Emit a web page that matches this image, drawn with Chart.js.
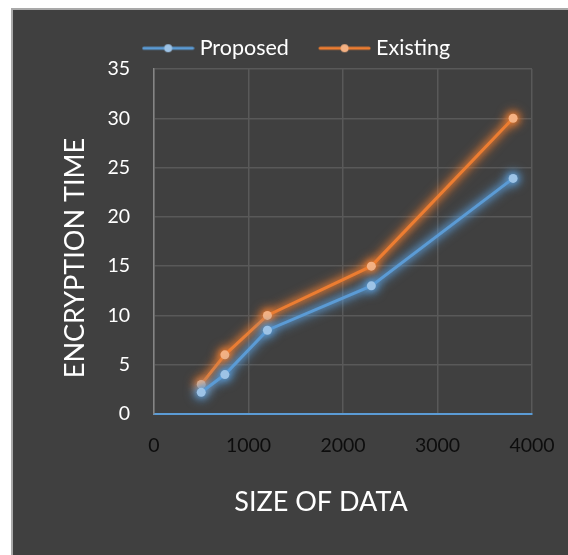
<!DOCTYPE html>
<html>
<head>
<meta charset="utf-8">
<script src="https://cdn.jsdelivr.net/npm/chart.js@4"></script>
<style>
  html, body { margin: 0; padding: 0; background: #fff; }
  #frame {
    position: absolute; left: 11px; top: 8px;
    width: 555px; height: 545px;
    border-left: 2px solid #a9a9a9; border-top: 2px solid #a9a9a9;
    background: #404040;
  }
  canvas { display: block; }
</style>
</head>
<body>
<div id="frame"><canvas id="chart" width="555" height="545"></canvas></div>
<script>
const sizes = [500, 750, 1200, 2300, 3800];
const proposed = [2.2, 4, 8.5, 13, 23.9];
const existing = [3, 6, 10, 15, 30];
const seriesNames = ['Proposed', 'Existing'];
const xTitle = 'SIZE OF DATA';
const yTitle = 'ENCRYPTION TIME';

const lineColors = ['#5B9BD5', '#ED7D31'];
const dotColors = ['#9DC3E6', '#F4B183'];
const glowColors = ['rgb(91,155,213)', 'rgb(237,125,49)'];
const FONT = 'Lato, "Open Sans", sans-serif';

// little line-with-dot icon for the legend, like the spreadsheet one
function legendIcon(i) {
  const c = document.createElement('canvas');
  c.width = 53; c.height = 12;
  const g = c.getContext('2d');
  g.strokeStyle = lineColors[i];
  g.lineWidth = 3;
  g.lineCap = 'round';
  g.beginPath(); g.moveTo(2, 6); g.lineTo(51, 6); g.stroke();
  g.fillStyle = dotColors[i];
  g.beginPath(); g.arc(26.5, 6, 4, 0, Math.PI * 2); g.fill();
  return c;
}
const icons = [legendIcon(0), legendIcon(1)];

// soft halo under each series, following the points the scales placed
const glow = {
  id: 'glow',
  beforeDatasetDraw(chart, args) {
    const ctx = chart.ctx;
    const pts = args.meta.data;
    ctx.save();
    ctx.filter = 'blur(5px)';
    ctx.globalAlpha = 0.45;
    ctx.strokeStyle = glowColors[args.index];
    ctx.fillStyle = glowColors[args.index];
    ctx.lineWidth = 11;
    ctx.lineJoin = 'round';
    ctx.lineCap = 'round';
    ctx.beginPath();
    pts.forEach((p, k) => k ? ctx.lineTo(p.x, p.y) : ctx.moveTo(p.x, p.y));
    ctx.stroke();
    pts.forEach(p => {
      ctx.beginPath();
      ctx.arc(p.x, p.y, 9, 0, Math.PI * 2);
      ctx.fill();
    });
    ctx.restore();
    ctx.save();
    ctx.shadowColor = glowColors[args.index];
    ctx.shadowBlur = 6;
  },
  afterDatasetDraw(chart) {
    chart.ctx.restore();
  }
};

const axisTitles = {
  id: 'axisTitles',
  afterDraw(chart) {
    const ctx = chart.ctx;
    ctx.save();
    ctx.fillStyle = '#ffffff';
    ctx.font = '27px ' + FONT;
    ctx.textAlign = 'center';
    ctx.textBaseline = 'alphabetic';
    ctx.fillText(xTitle, 308, 501);
    ctx.translate(71, 248);
    ctx.rotate(-Math.PI / 2);
    ctx.fillText(yTitle, 0, 0);
    ctx.restore();
  }
};

function toPoints(ys) {
  return sizes.map((x, i) => ({ x: x, y: ys[i] }));
}

new Chart(document.getElementById('chart'), {
  type: 'line',
  data: {
    datasets: [proposed, existing].map((ys, i) => ({
      label: seriesNames[i],
      data: toPoints(ys),
      borderColor: lineColors[i],
      backgroundColor: dotColors[i],
      borderWidth: 3,
      pointRadius: 4.5,
      pointBorderWidth: 0,
      pointBackgroundColor: dotColors[i],
      fill: false,
      tension: 0
    }))
  },
  options: {
    responsive: false,
    animation: false,
    layout: { padding: { left: 52.5, right: 36, top: -7.5, bottom: 0 } },
    plugins: {
      tooltip: { enabled: false },
      legend: {
        position: 'top',
        labels: {
          color: '#ffffff',
          font: { family: FONT, size: 21.5 },
          usePointStyle: true,
          pointStyleWidth: 41.5,
          padding: 35,
          generateLabels(chart) {
            const items = Chart.defaults.plugins.legend.labels.generateLabels(chart);
            items.forEach((it, i) => { it.pointStyle = icons[i]; });
            return items;
          }
        }
      }
    },
    scales: {
      x: {
        type: 'linear',
        min: 0,
        max: 4000,
        afterFit(scale) {
          scale.height = 141;
          scale.paddingRight = 20;
        },
        ticks: {
          stepSize: 1000, color: '#0d0d0d', padding: 20,
          font: { family: FONT, size: 19.5 },
          callback: v => String(v)
        },
        grid: { color: '#595959', lineWidth: 1.5, drawTicks: false },
        border: { color: '#5B9BD5', width: 2 }
      },
      y: {
        min: 0,
        max: 35,
        afterFit(scale) { scale.width = 88.5; },
        ticks: { stepSize: 5, color: '#ffffff', padding: 24, font: { family: FONT, size: 19.5 } },
        grid: { color: '#595959', lineWidth: 1.5, drawTicks: false },
        border: { color: '#858585', width: 1.5 }
      }
    }
  },
  plugins: [glow, axisTitles]
});
</script>
</body>
</html>
